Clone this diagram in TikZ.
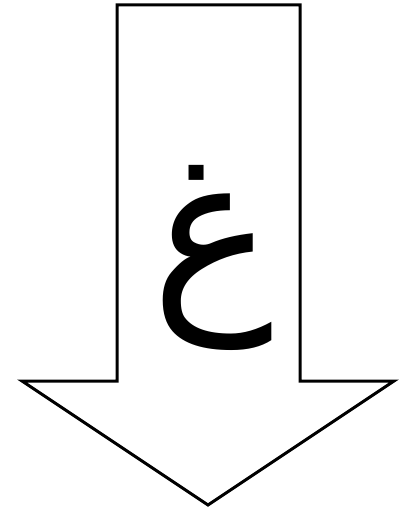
\documentclass[tikz,border=0pt]{standalone}
\usepackage{fontspec}
\newfontfamily\arabicfont[Script=Arabic]{DejaVu Sans}
\TeXXeTstate=1
\begin{document}
\begin{tikzpicture}[x=1pt, y=-1pt, line join=miter]
\useasboundingbox (0,0) rectangle (409,510);
\coordinate (T1) at (117,5);
\coordinate (T2) at (300,5);
\coordinate (S2) at (300,381);
\coordinate (H2) at (394,381);
\coordinate (Tip) at (208,505);
\coordinate (H1) at (22,381);
\coordinate (S1) at (117,381);

\draw[line width=3pt] (T1)--(T2)--(S2)--(H2)--(Tip)--(H1)--(S1)--cycle;

\node[font=\fontsize{205}{205}\selectfont] (letter) at (213,258) {\arabicfont\beginR غ\endR};
\end{tikzpicture}
\end{document}
